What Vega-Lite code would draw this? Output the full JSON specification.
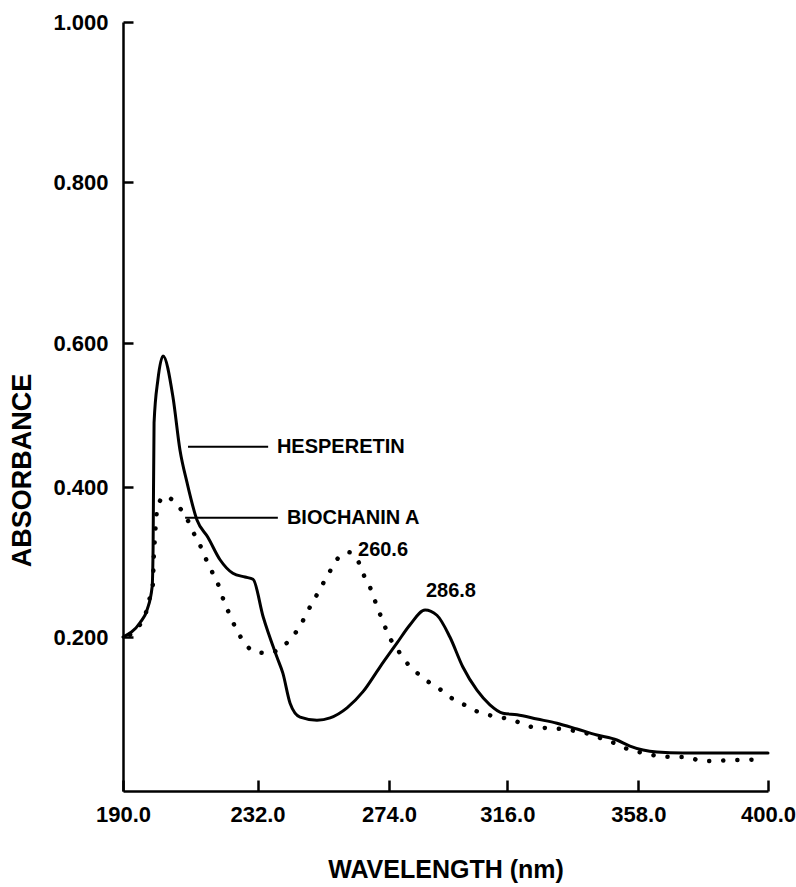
{
  "$schema": "https://vega.github.io/schema/vega-lite/v6.json",
  "autosize": {"type": "none"},
  "width": 645,
  "height": 769,
  "padding": {"left": 123, "top": 22, "right": 28, "bottom": 96},
  "background": "white",
  "config": {
    "view": {"stroke": null},
    "font": "Liberation Sans",
    "axis": {
      "grid": false,
      "domainColor": "black",
      "domainWidth": 2.5,
      "tickColor": "black",
      "tickWidth": 2.5,
      "labelColor": "black",
      "titleColor": "black",
      "labelFont": "Liberation Sans",
      "titleFont": "Liberation Sans",
      "labelFontWeight": "bold",
      "titleFontWeight": "bold"
    }
  },
  "datasets": {
    "spectra": [
      {"compound": "HESPERETIN", "wavelength": 190.0, "absorbance": 0.200},
      {"compound": "HESPERETIN", "wavelength": 195.3, "absorbance": 0.219},
      {"compound": "HESPERETIN", "wavelength": 197.5, "absorbance": 0.236},
      {"compound": "HESPERETIN", "wavelength": 199.1, "absorbance": 0.267},
      {"compound": "HESPERETIN", "wavelength": 199.4, "absorbance": 0.320},
      {"compound": "HESPERETIN", "wavelength": 199.7, "absorbance": 0.489},
      {"compound": "HESPERETIN", "wavelength": 200.9, "absorbance": 0.549},
      {"compound": "HESPERETIN", "wavelength": 202.5, "absorbance": 0.582},
      {"compound": "HESPERETIN", "wavelength": 205.6, "absorbance": 0.525},
      {"compound": "HESPERETIN", "wavelength": 207.8, "absorbance": 0.451},
      {"compound": "HESPERETIN", "wavelength": 210.0, "absorbance": 0.406},
      {"compound": "HESPERETIN", "wavelength": 213.1, "absorbance": 0.356},
      {"compound": "HESPERETIN", "wavelength": 216.5, "absorbance": 0.333},
      {"compound": "HESPERETIN", "wavelength": 220.3, "absorbance": 0.303},
      {"compound": "HESPERETIN", "wavelength": 224.3, "absorbance": 0.285},
      {"compound": "HESPERETIN", "wavelength": 228.1, "absorbance": 0.280},
      {"compound": "HESPERETIN", "wavelength": 230.6, "absorbance": 0.277},
      {"compound": "HESPERETIN", "wavelength": 233.8, "absorbance": 0.227},
      {"compound": "HESPERETIN", "wavelength": 238.2, "absorbance": 0.174},
      {"compound": "HESPERETIN", "wavelength": 240.1, "absorbance": 0.153},
      {"compound": "HESPERETIN", "wavelength": 242.4, "absorbance": 0.114},
      {"compound": "HESPERETIN", "wavelength": 245.6, "absorbance": 0.096},
      {"compound": "HESPERETIN", "wavelength": 251.0, "absorbance": 0.092},
      {"compound": "HESPERETIN", "wavelength": 255.2, "absorbance": 0.095},
      {"compound": "HESPERETIN", "wavelength": 260.6, "absorbance": 0.108},
      {"compound": "HESPERETIN", "wavelength": 265.7, "absorbance": 0.129},
      {"compound": "HESPERETIN", "wavelength": 271.1, "absorbance": 0.161},
      {"compound": "HESPERETIN", "wavelength": 276.8, "absorbance": 0.192},
      {"compound": "HESPERETIN", "wavelength": 281.4, "absorbance": 0.216},
      {"compound": "HESPERETIN", "wavelength": 286.8, "absorbance": 0.236},
      {"compound": "HESPERETIN", "wavelength": 291.0, "absorbance": 0.229},
      {"compound": "HESPERETIN", "wavelength": 295.6, "absorbance": 0.200},
      {"compound": "HESPERETIN", "wavelength": 300.2, "absorbance": 0.161},
      {"compound": "HESPERETIN", "wavelength": 305.2, "absorbance": 0.131},
      {"compound": "HESPERETIN", "wavelength": 309.8, "absorbance": 0.112},
      {"compound": "HESPERETIN", "wavelength": 314.4, "absorbance": 0.101},
      {"compound": "HESPERETIN", "wavelength": 319.1, "absorbance": 0.099},
      {"compound": "HESPERETIN", "wavelength": 325.5, "absorbance": 0.0935},
      {"compound": "HESPERETIN", "wavelength": 331.9, "absorbance": 0.088},
      {"compound": "HESPERETIN", "wavelength": 338.3, "absorbance": 0.0805},
      {"compound": "HESPERETIN", "wavelength": 344.7, "absorbance": 0.0727},
      {"compound": "HESPERETIN", "wavelength": 351.1, "absorbance": 0.0662},
      {"compound": "HESPERETIN", "wavelength": 355.3, "absorbance": 0.0584},
      {"compound": "HESPERETIN", "wavelength": 359.5, "absorbance": 0.0532},
      {"compound": "HESPERETIN", "wavelength": 364.0, "absorbance": 0.0506},
      {"compound": "HESPERETIN", "wavelength": 372.4, "absorbance": 0.0494},
      {"compound": "HESPERETIN", "wavelength": 383.4, "absorbance": 0.0494},
      {"compound": "HESPERETIN", "wavelength": 400.0, "absorbance": 0.0494},
      {"compound": "BIOCHANIN A", "wavelength": 192.2, "absorbance": 0.203},
      {"compound": "BIOCHANIN A", "wavelength": 194.7, "absorbance": 0.213},
      {"compound": "BIOCHANIN A", "wavelength": 197.2, "absorbance": 0.233},
      {"compound": "BIOCHANIN A", "wavelength": 198.4, "absorbance": 0.253},
      {"compound": "BIOCHANIN A", "wavelength": 199.4, "absorbance": 0.273},
      {"compound": "BIOCHANIN A", "wavelength": 199.5, "absorbance": 0.293},
      {"compound": "BIOCHANIN A", "wavelength": 199.7, "absorbance": 0.313},
      {"compound": "BIOCHANIN A", "wavelength": 200.0, "absorbance": 0.335},
      {"compound": "BIOCHANIN A", "wavelength": 200.3, "absorbance": 0.355},
      {"compound": "BIOCHANIN A", "wavelength": 200.9, "absorbance": 0.375},
      {"compound": "BIOCHANIN A", "wavelength": 203.1, "absorbance": 0.388},
      {"compound": "BIOCHANIN A", "wavelength": 206.9, "absorbance": 0.376},
      {"compound": "BIOCHANIN A", "wavelength": 209.7, "absorbance": 0.360},
      {"compound": "BIOCHANIN A", "wavelength": 211.9, "absorbance": 0.340},
      {"compound": "BIOCHANIN A", "wavelength": 214.0, "absorbance": 0.323},
      {"compound": "BIOCHANIN A", "wavelength": 215.9, "absorbance": 0.304},
      {"compound": "BIOCHANIN A", "wavelength": 217.8, "absorbance": 0.287},
      {"compound": "BIOCHANIN A", "wavelength": 220.0, "absorbance": 0.267},
      {"compound": "BIOCHANIN A", "wavelength": 221.5, "absorbance": 0.248},
      {"compound": "BIOCHANIN A", "wavelength": 223.4, "absorbance": 0.229},
      {"compound": "BIOCHANIN A", "wavelength": 225.3, "absorbance": 0.211},
      {"compound": "BIOCHANIN A", "wavelength": 227.8, "absorbance": 0.1935},
      {"compound": "BIOCHANIN A", "wavelength": 231.2, "absorbance": 0.1805},
      {"compound": "BIOCHANIN A", "wavelength": 235.7, "absorbance": 0.179},
      {"compound": "BIOCHANIN A", "wavelength": 239.8, "absorbance": 0.187},
      {"compound": "BIOCHANIN A", "wavelength": 243.3, "absorbance": 0.201},
      {"compound": "BIOCHANIN A", "wavelength": 245.9, "absorbance": 0.217},
      {"compound": "BIOCHANIN A", "wavelength": 248.1, "absorbance": 0.235},
      {"compound": "BIOCHANIN A", "wavelength": 250.4, "absorbance": 0.252},
      {"compound": "BIOCHANIN A", "wavelength": 252.9, "absorbance": 0.271},
      {"compound": "BIOCHANIN A", "wavelength": 255.2, "absorbance": 0.288},
      {"compound": "BIOCHANIN A", "wavelength": 257.7, "absorbance": 0.305},
      {"compound": "BIOCHANIN A", "wavelength": 261.2, "absorbance": 0.313},
      {"compound": "BIOCHANIN A", "wavelength": 264.4, "absorbance": 0.299},
      {"compound": "BIOCHANIN A", "wavelength": 266.3, "absorbance": 0.279},
      {"compound": "BIOCHANIN A", "wavelength": 268.6, "absorbance": 0.260},
      {"compound": "BIOCHANIN A", "wavelength": 270.2, "absorbance": 0.240},
      {"compound": "BIOCHANIN A", "wavelength": 272.1, "absorbance": 0.221},
      {"compound": "BIOCHANIN A", "wavelength": 273.7, "absorbance": 0.203},
      {"compound": "BIOCHANIN A", "wavelength": 276.5, "absorbance": 0.187},
      {"compound": "BIOCHANIN A", "wavelength": 279.3, "absorbance": 0.171},
      {"compound": "BIOCHANIN A", "wavelength": 283.2, "absorbance": 0.156},
      {"compound": "BIOCHANIN A", "wavelength": 287.1, "absorbance": 0.144},
      {"compound": "BIOCHANIN A", "wavelength": 291.4, "absorbance": 0.134},
      {"compound": "BIOCHANIN A", "wavelength": 295.6, "absorbance": 0.122},
      {"compound": "BIOCHANIN A", "wavelength": 300.2, "absorbance": 0.113},
      {"compound": "BIOCHANIN A", "wavelength": 304.8, "absorbance": 0.104},
      {"compound": "BIOCHANIN A", "wavelength": 309.4, "absorbance": 0.0987},
      {"compound": "BIOCHANIN A", "wavelength": 314.8, "absorbance": 0.0948},
      {"compound": "BIOCHANIN A", "wavelength": 319.4, "absorbance": 0.0896},
      {"compound": "BIOCHANIN A", "wavelength": 323.9, "absorbance": 0.0831},
      {"compound": "BIOCHANIN A", "wavelength": 328.7, "absorbance": 0.0818},
      {"compound": "BIOCHANIN A", "wavelength": 333.2, "absorbance": 0.0805},
      {"compound": "BIOCHANIN A", "wavelength": 337.7, "absorbance": 0.0779},
      {"compound": "BIOCHANIN A", "wavelength": 342.2, "absorbance": 0.074},
      {"compound": "BIOCHANIN A", "wavelength": 346.6, "absorbance": 0.0675},
      {"compound": "BIOCHANIN A", "wavelength": 351.1, "absorbance": 0.061},
      {"compound": "BIOCHANIN A", "wavelength": 355.3, "absorbance": 0.0532},
      {"compound": "BIOCHANIN A", "wavelength": 359.8, "absorbance": 0.0494},
      {"compound": "BIOCHANIN A", "wavelength": 364.3, "absorbance": 0.0455},
      {"compound": "BIOCHANIN A", "wavelength": 369.2, "absorbance": 0.0442},
      {"compound": "BIOCHANIN A", "wavelength": 373.7, "absorbance": 0.0442},
      {"compound": "BIOCHANIN A", "wavelength": 378.5, "absorbance": 0.039},
      {"compound": "BIOCHANIN A", "wavelength": 383.1, "absorbance": 0.039},
      {"compound": "BIOCHANIN A", "wavelength": 387.6, "absorbance": 0.0403},
      {"compound": "BIOCHANIN A", "wavelength": 392.5, "absorbance": 0.0403},
      {"compound": "BIOCHANIN A", "wavelength": 397.0, "absorbance": 0.0416}
    ],
    "leaders": [
      {"label": "HESPERETIN", "x": 210.3, "x2": 235.4, "y": 0.456, "tx": 238.2},
      {"label": "BIOCHANIN A", "x": 209.4, "x2": 238.5, "y": 0.359, "tx": 241.4}
    ],
    "peaks": [
      {"label": "260.6", "x": 264.1, "y": 0.316},
      {"label": "286.8", "x": 287.1, "y": 0.261}
    ]
  },
  "encoding": {
    "x": {
      "field": "wavelength", "type": "quantitative",
      "scale": {"domain": [190, 232, 274, 316, 358, 400], "range": [0, 134.5, 266, 384.4, 515.4, 645], "nice": false, "zero": false},
      "axis": {
        "values": [190, 232, 274, 316, 358, 400], "format": ".1f",
        "title": "WAVELENGTH (nm)", "titleFontSize": 25, "titleY": 66, "titleBaseline": "top",
        "labelFontSize": 22, "tickSize": -11, "labelPadding": 24, "labelFlush": false
      }
    },
    "y": {
      "field": "absorbance", "type": "quantitative",
      "scale": {"domain": [0, 0.2, 0.4, 0.6, 0.8, 1.0], "range": [769, 615, 465, 321, 160, 0], "nice": false, "zero": false},
      "axis": {
        "values": [0.2, 0.4, 0.6, 0.8, 1.0], "format": ".3f",
        "title": "ABSORBANCE", "titleFontSize": 27, "titleX": -87, "titleY": 448,
        "labelFontSize": 22, "tickSize": -10, "labelPadding": 25, "labelFlush": false
      }
    }
  },
  "layer": [
    {
      "data": {"name": "spectra"},
      "transform": [{"filter": "datum.compound === 'HESPERETIN'"}],
      "mark": {"type": "line", "color": "black", "strokeWidth": 3, "strokeJoin": "round", "strokeCap": "round", "interpolate": "monotone"}
    },
    {
      "data": {"name": "spectra"},
      "transform": [{"filter": "datum.compound === 'BIOCHANIN A'"}],
      "mark": {"type": "line", "color": "black", "strokeWidth": 4.5, "strokeCap": "round", "strokeDash": [0.1, 14], "interpolate": "monotone"}
    },
    {
      "data": {"name": "leaders"},
      "mark": {"type": "rule", "color": "black", "strokeWidth": 2},
      "encoding": {
        "x": {"field": "x", "type": "quantitative"},
        "x2": {"field": "x2"},
        "y": {"field": "y", "type": "quantitative"}
      }
    },
    {
      "data": {"name": "leaders"},
      "mark": {"type": "text", "align": "left", "baseline": "middle", "fontSize": 20, "fontWeight": "bold", "font": "Liberation Sans", "color": "black"},
      "encoding": {
        "x": {"field": "tx", "type": "quantitative"},
        "y": {"field": "y", "type": "quantitative"},
        "text": {"field": "label"}
      }
    },
    {
      "data": {"name": "peaks"},
      "mark": {"type": "text", "align": "left", "baseline": "middle", "fontSize": 20, "fontWeight": "bold", "font": "Liberation Sans", "color": "black"},
      "encoding": {
        "x": {"field": "x", "type": "quantitative"},
        "y": {"field": "y", "type": "quantitative"},
        "text": {"field": "label"}
      }
    }
  ]
}
